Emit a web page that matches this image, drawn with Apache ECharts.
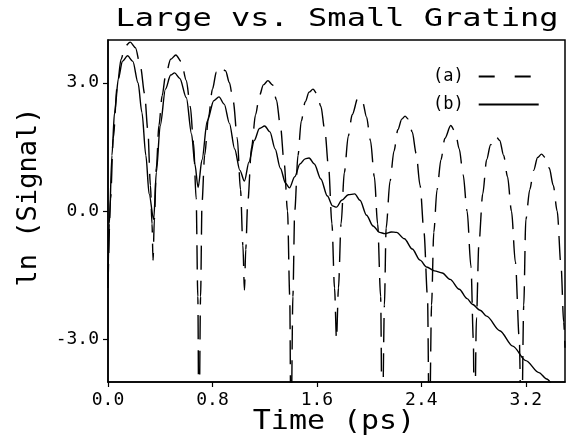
<!DOCTYPE html>
<html><head><meta charset="utf-8">
<script src="https://cdn.jsdelivr.net/npm/echarts@6/dist/echarts.min.js"></script>
<style>html,body{margin:0;padding:0;background:#fff}#c{width:573px;height:436px}</style>
</head><body><div id="c"></div>
<script>
const titleText = 'Large vs. Small Grating';
const xName = 'Time (ps)';
const yName = 'ln (Signal)';
const xTicks = [0, 0.8, 1.6, 2.4, 3.2];
const yTicks = [-3, 0, 3];
const seriesNames = ['(a)', '(b)'];

// (a) large grating (dashed)
const timeA = [
  0, 0.02, 0.04, 0.07, 0.1, 0.13, 0.17, 0.21, 0.25, 0.28, 0.305, 0.325, 0.337, 0.345,
  0.355, 0.37, 0.39, 0.415, 0.44, 0.48, 0.52, 0.56, 0.6, 0.63, 0.655, 0.675, 0.688, 0.697,
  0.701, 0.709, 0.72, 0.74, 0.77, 0.8, 0.83, 0.865, 0.9, 0.93, 0.96, 0.99, 1.015, 1.033, 1.045,
  1.055, 1.07, 1.1, 1.13, 1.16, 1.19, 1.225, 1.26, 1.29, 1.32, 1.35, 1.375, 1.392, 1.402,
  1.406, 1.416, 1.43, 1.455, 1.48, 1.51, 1.54, 1.57, 1.6, 1.63, 1.66, 1.69, 1.715, 1.735, 1.75,
  1.765, 1.785, 1.81, 1.84, 1.87, 1.915, 1.95, 1.98, 2.01, 2.04, 2.065, 2.088, 2.101,
  2.105, 2.117, 2.13, 2.16, 2.19, 2.22, 2.25, 2.275, 2.3, 2.33, 2.36, 2.39, 2.42, 2.447, 2.462,
  2.466, 2.478, 2.495, 2.52, 2.55, 2.58, 2.625, 2.66, 2.69, 2.72, 2.75, 2.78, 2.798, 2.807,
  2.811, 2.822, 2.84, 2.87, 2.9, 2.93, 2.97, 3.0, 3.03, 3.06, 3.09, 3.12, 3.15, 3.168,
  3.172, 3.184, 3.2, 3.23, 3.26, 3.29, 3.32, 3.35, 3.38, 3.41, 3.44, 3.47, 3.49, 3.5
];
const signalA = [
  -1.8, 0.3, 1.7, 2.9, 3.55, 3.85, 3.95, 3.82, 3.35, 2.75, 1.9, 0.6, -0.3, -1.15,
  -0.2, 1.0, 2.0, 2.7, 3.15, 3.55, 3.65, 3.5, 3.05, 2.45, 1.6, 0.3, -2.0, -6,
  -6, -2.0, 0.2, 1.3, 2.2, 2.85, 3.25, 3.37, 3.28, 3.0, 2.55, 1.7, 0.5, -0.8, -1.85,
  -0.9, 0.2, 1.5, 2.25, 2.7, 2.95, 3.05, 2.95, 2.6, 2.0, 1.1, 0.0, -2.0, -6,
  -6, -2.0, 0.0, 1.3, 2.1, 2.55, 2.78, 2.85, 2.75, 2.45, 1.9, 1.0, -0.3, -1.8, -3.0,
  -1.8, -0.3, 0.9, 1.75, 2.25, 2.65, 2.55, 2.2, 1.65, 0.8, -0.3, -2.0, -6,
  -6, -2.2, -0.4, 0.7, 1.4, 1.9, 2.15, 2.22, 2.15, 1.85, 1.35, 0.6, -0.5, -2.0, -6,
  -6, -2.2, -0.5, 0.5, 1.2, 1.7, 2.0, 1.85, 1.45, 0.85, 0.0, -1.3, -3.0, -6,
  -6, -2.5, -0.8, 0.4, 1.2, 1.55, 1.75, 1.65, 1.3, 0.8, 0.0, -1.2, -3.0, -6,
  -6, -2.2, -0.2, 0.5, 0.95, 1.25, 1.33, 1.25, 1.0, 0.6, 0.0, -1.3, -2.6, -3.2
];

// (b) small grating (solid)
const timeB = [
  0, 0.01, 0.03, 0.05, 0.08, 0.11, 0.15, 0.19, 0.23, 0.26, 0.29, 0.315, 0.35, 0.37, 0.4,
  0.44, 0.48, 0.51, 0.55, 0.6, 0.64, 0.665, 0.69, 0.72, 0.76, 0.81, 0.85, 0.89, 0.93, 0.97,
  1.01, 1.045, 1.08, 1.12, 1.16, 1.2, 1.24, 1.28, 1.32, 1.36, 1.39, 1.43, 1.47, 1.51, 1.54,
  1.58, 1.63, 1.68, 1.72, 1.75, 1.79, 1.84, 1.89, 1.93, 1.98, 2.03, 2.08, 2.12, 2.17, 2.21,
  2.27, 2.33, 2.39, 2.44, 2.5, 2.56, 2.62, 2.69, 2.75, 2.79, 2.85, 2.9, 3.0, 3.1, 3.2, 3.3,
  3.36, 3.39
];
const signalB = [
  -1.6, -0.3, 1.3, 2.3, 3.1, 3.5, 3.63, 3.5, 3.0, 2.3, 1.3, 0.4, -0.2, 0.9, 2.0,
  2.85, 3.18, 3.23, 3.1, 2.65, 1.8, 1.1, 0.55, 1.2, 2.1, 2.58, 2.67, 2.5, 2.05, 1.45,
  0.95, 0.7, 1.15, 1.65, 1.93, 1.99, 1.85, 1.45, 1.0, 0.65, 0.54, 0.8, 1.1, 1.22, 1.24,
  1.1, 0.75, 0.35, 0.12, 0.09, 0.25, 0.38, 0.4, 0.25, -0.1, -0.35, -0.5, -0.53, -0.49, -0.5,
  -0.65, -0.89, -1.15, -1.31, -1.4, -1.45, -1.6, -1.83, -2.05, -2.18, -2.32, -2.46, -2.8, -3.16, -3.5, -3.78,
  -3.93, -4.02
];

const FONT = "'DejaVu Sans Mono', 'Liberation Mono', monospace";
const pairs = (xs, ys) => xs.map((x, i) => [x, ys[i]]);

const chart = echarts.init(document.getElementById('c'), null, {renderer: 'canvas'});
chart.setOption({
  animation: false,
  backgroundColor: '#fff',
  grid: {left: 108, right: 8, top: 40, bottom: 54, show: true, borderColor: '#000', borderWidth: 1.5, backgroundColor: 'transparent'},
  legend: {
    orient: 'vertical', left: 428, top: 63, itemGap: 11, align: 'right',
    itemWidth: 60, itemHeight: 14,
    itemStyle: {opacity: 0},
    textStyle: {fontFamily: FONT, fontSize: 17, color: '#000', padding: [0, 10, 0, 0]},
    data: [
      {name: seriesNames[0], lineStyle: {type: [16, 20]}},
      {name: seriesNames[1]}
    ]
  },
  xAxis: {
    type: 'value', min: 0, max: 3.5,
    axisLine: {show: true, onZero: false, lineStyle: {color: '#000', width: 1.5}},
    axisTick: {show: true, customValues: xTicks, length: 5, lineStyle: {color: '#000', width: 1.2}},
    axisLabel: {customValues: xTicks, formatter: v => v.toFixed(1), fontFamily: FONT, fontSize: 18, color: '#000', margin: 9},
    splitLine: {show: false}
  },
  yAxis: {
    type: 'value', min: -4, max: 4,
    axisLine: {show: true, onZero: false, lineStyle: {color: '#000', width: 1.5}},
    axisTick: {show: true, customValues: yTicks, length: 5, lineStyle: {color: '#000', width: 1.2}},
    axisLabel: {customValues: yTicks, formatter: v => v.toFixed(1), fontFamily: FONT, fontSize: 18, color: '#000', margin: 9},
    splitLine: {show: false}
  },
  graphic: [
    {type: 'text', x: 337, y: 19, scaleX: 1.28, style: {text: titleText, font: "25px 'DejaVu Sans Mono'", fill: '#000', textAlign: 'center', textVerticalAlign: 'middle'}},
    {type: 'text', x: 334, y: 422, scaleX: 1.11, style: {text: xName, font: "27px 'DejaVu Sans Mono'", fill: '#000', textAlign: 'center', textVerticalAlign: 'middle'}},
    {type: 'text', x: 29, y: 197, rotation: Math.PI / 2, scaleX: 1.0, style: {text: yName, font: "27px 'DejaVu Sans Mono'", fill: '#000', textAlign: 'center', textVerticalAlign: 'middle'}}
  ],
  series: [
    {name: seriesNames[0], type: 'line', data: pairs(timeA, signalA), symbol: 'none', smooth: 0.3, smoothMonotone: 'x', clip: true,
     lineStyle: {color: '#000', width: 1.4, type: [24, 11]}, itemStyle: {color: '#000'}},
    {name: seriesNames[1], type: 'line', data: pairs(timeB, signalB), symbol: 'none', smooth: 0.3, smoothMonotone: 'x', clip: true,
     lineStyle: {color: '#000', width: 1.4, type: 'solid'}, itemStyle: {color: '#000'}}
  ]
});
</script></body></html>
